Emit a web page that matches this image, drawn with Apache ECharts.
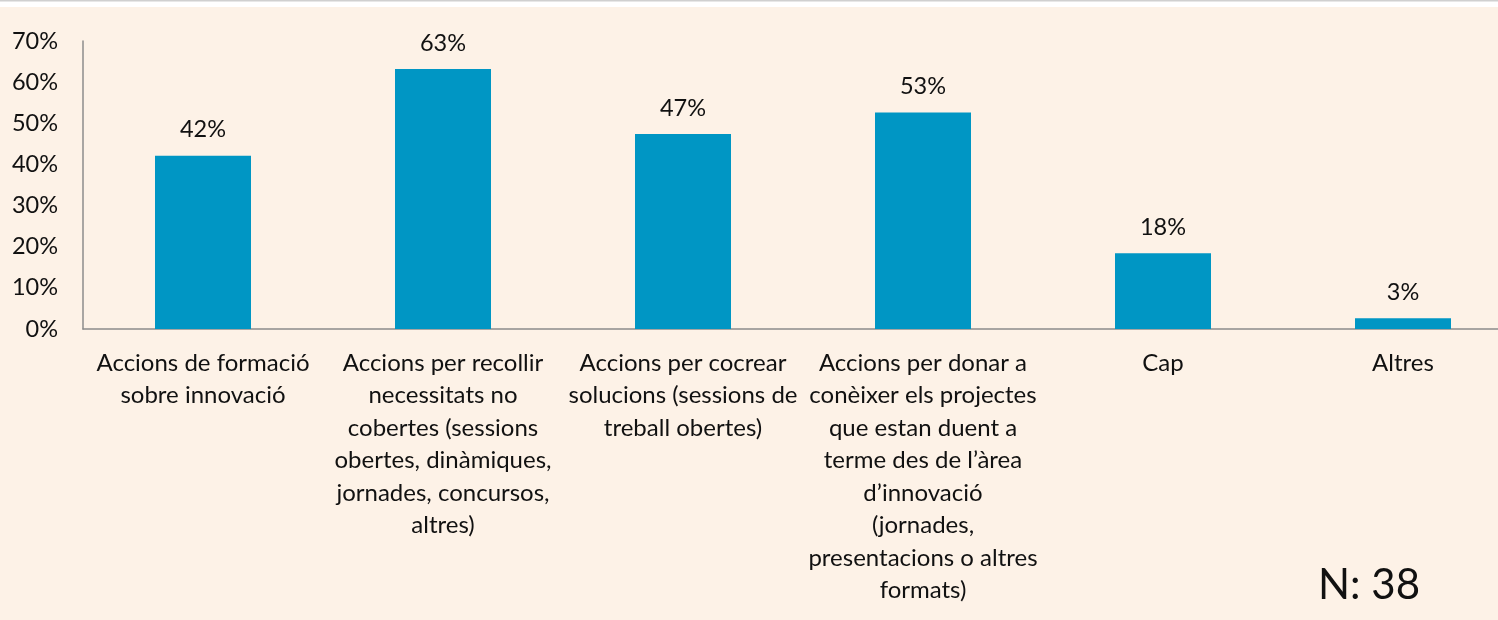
<!DOCTYPE html>
<html>
<head>
<meta charset="utf-8">
<script src="https://cdn.jsdelivr.net/npm/echarts@6/dist/echarts.min.js"></script>
<style>
html,body{margin:0;padding:0;background:#fdf2e7;overflow:hidden;}
#chart{width:1523px;height:620px;}
</style>
</head>
<body>
<div id="chart"></div>
<script>
// categories (line breaks as in the picture)
var categories = [
	'Accions de formació\nsobre innovació',
	'Accions per recollir\nnecessitats no\ncobertes (sessions\nobertes, dinàmiques,\njornades, concursos,\naltres)',
	'Accions per cocrear\nsolucions (sessions de\ntreball obertes)',
	'Accions per donar a\nconèixer els projectes\nque estan duent a\nterme des de l\u2019àrea\nd\u2019innovació\n(jornades,\npresentacions o altres\nformats)',
	'Cap',
	'Altres'
];
var values = [42.1, 63.2, 47.4, 52.6, 18.4, 2.6];
var yTicks = [0, 10, 20, 30, 40, 50, 60, 70];
var sampleNote = 'N: 38';

var font = 'Lato, "Open Sans", sans-serif';
var chart = echarts.init(document.getElementById('chart'));

// the last category runs past the right edge of the picture,
// so the canvas is a bit wider than the window and gets clipped
var option = {
	backgroundColor: '#fdf2e7',
	animation: false,
	grid: {left: 83, right: 0, top: 41, bottom: 291, containLabel: false},
	xAxis: {
		type: 'category',
		data: categories,
		axisTick: {show: false},
		axisLine: {lineStyle: {color: '#8c8c8c', width: 1.5}},
		axisLabel: {
			interval: 0,
			color: '#111',
			fontFamily: font,
			fontSize: 24,
			lineHeight: 32.5,
			margin: 18
		}
	},
	yAxis: {
		type: 'value',
		min: yTicks[0],
		max: yTicks[yTicks.length - 1],
		interval: 10,
		splitLine: {show: false},
		axisTick: {show: false},
		axisLine: {show: true, lineStyle: {color: '#8c8c8c', width: 1.5}},
		axisLabel: {
			color: '#111',
			fontFamily: font,
			fontSize: 23.5,
			margin: 25,
			formatter: '{value}%'
		}
	},
	series: [{
		type: 'bar',
		data: values,
		barWidth: 96,
		itemStyle: {color: '#0096c4'},
		label: {
			show: true,
			position: 'top',
			distance: 14,
			color: '#111',
			fontFamily: font,
			fontSize: 23.5,
			formatter: function (p) { return Math.round(p.value) + '%'; }
		}
	}],
	graphic: [
		{type: 'rect', left: 0, top: 0, shape: {width: 1523, height: 7}, style: {fill: '#ffffff'}},
		{type: 'rect', left: 0, top: 0, shape: {width: 1523, height: 1.5}, style: {fill: '#d0d0d0'}},
		{type: 'text', left: 1318, top: 564, style: {text: sampleNote, fill: '#111', font: '42px ' + font}}
	]
};
chart.setOption(option);
</script>
</body>
</html>
